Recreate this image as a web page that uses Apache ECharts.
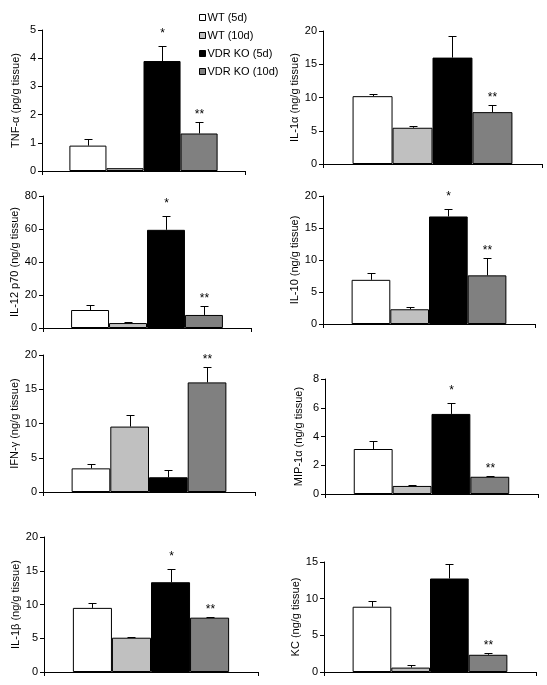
<!DOCTYPE html>
<html>
<head>
<meta charset="utf-8">
<script src="https://cdn.jsdelivr.net/npm/echarts@6/dist/echarts.min.js"></script>
<style>
html,body{margin:0;padding:0;background:#fff;}
#c{width:547px;height:685px;}
</style>
</head>
<body>
<div id="c"></div>
<script>
// ---- Data ----
const groups = ['WT (5d)', 'WT (10d)', 'VDR KO (5d)', 'VDR KO (10d)'];
const groupColors = ['#ffffff', '#c0c0c0', '#000000', '#808080'];

const panelNames = ['TNF-α (pg/g tissue)', 'IL-1α (ng/g tissue)', 'IL-12 p70 (ng/g tissue)', 'IL-10 (ng/g tissue)',
  'IFN-γ (ng/g tissue)', 'MIP-1α (ng/g tissue)', 'IL-1β (ng/g tissue)', 'KC (ng/g tissue)'];

const tnfMean = [0.9, 0.1, 3.9, 1.33];
const tnfErr  = [0.22, 0.0, 0.52, 0.39];
const il1aMean = [10.2, 5.45, 16.0, 7.8];
const il1aErr  = [0.35, 0.25, 3.2, 1.05];
const il12Mean = [10.9, 3.0, 59.5, 7.9];
const il12Err  = [3.0, 0.6, 8.4, 5.4];
const il10Mean = [6.9, 2.3, 16.8, 7.6];
const il10Err  = [1.0, 0.3, 1.1, 2.7];
const ifnMean = [3.45, 9.55, 2.15, 16.0];
const ifnErr  = [0.7, 1.65, 1.12, 2.2];
const mipMean = [3.13, 0.56, 5.57, 1.2];
const mipErr  = [0.56, 0.04, 0.76, 0.05];
const il1bMean = [9.5, 5.08, 13.3, 8.05];
const il1bErr  = [0.77, 0.11, 2.0, 0.15];
const kcMean = [8.9, 0.6, 12.75, 2.35];
const kcErr  = [0.83, 0.4, 2.02, 0.29];

const tnfStars  = ['', '', '*', '**'];
const il1aStars = ['', '', '', '**'];
const il12Stars = ['', '', '*', '**'];
const il10Stars = ['', '', '*', '**'];
const ifnStars  = ['', '', '', '**'];
const mipStars  = ['', '', '*', '**'];
const il1bStars = ['', '', '*', '**'];
const kcStars   = ['', '', '', '**'];

const yMax = [5, 20, 80, 20, 20, 8, 20, 15];
const yInterval = [1, 5, 20, 5, 5, 2, 5, 5];

const means = [tnfMean, il1aMean, il12Mean, il10Mean, ifnMean, mipMean, il1bMean, kcMean];
const errs = [tnfErr, il1aErr, il12Err, il10Err, ifnErr, mipErr, il1bErr, kcErr];
const stars = [tnfStars, il1aStars, il12Stars, il10Stars, ifnStars, mipStars, il1bStars, kcStars];

// ---- Layout (pixel boxes of the plot areas) ----
const grids = [
  {left: 42, top: 30, width: 203, height: 141},
  {left: 323, top: 31, width: 219, height: 133},
  {left: 43, top: 196, width: 208, height: 132},
  {left: 323, top: 196, width: 212, height: 128},
  {left: 43, top: 355, width: 212, height: 137},
  {left: 325, top: 379, width: 213, height: 115},
  {left: 44, top: 537, width: 214, height: 135},
  {left: 324, top: 562, width: 212, height: 110}
];
const CAT_GAP = 0.27;
const FONT = '"Liberation Sans", Arial, sans-serif';

const chart = echarts.init(document.getElementById('c'), null, {renderer: 'canvas'});

const xAxes = [], yAxes = [], series = [];
grids.forEach((g, p) => {
  xAxes.push({
    gridIndex: p, type: 'category', data: [''],
    axisLine: {lineStyle: {color: '#000', width: 1}},
    axisTick: {show: true, length: 4, lineStyle: {color: '#000'}},
    axisLabel: {show: false}
  });
  yAxes.push({
    gridIndex: p, type: 'value', min: 0, max: yMax[p], interval: yInterval[p],
    name: panelNames[p], nameLocation: 'middle', nameGap: 21,
    nameTextStyle: {fontFamily: FONT, fontSize: 11, color: '#000'},
    axisLine: {show: true, lineStyle: {color: '#000', width: 1}},
    axisTick: {show: true, length: 4, lineStyle: {color: '#000'}},
    axisLabel: {fontFamily: FONT, fontSize: 11, color: '#000', margin: 6},
    splitLine: {show: false}
  });
  groups.forEach((name, i) => {
    series.push({
      type: 'bar', name: name, xAxisIndex: p, yAxisIndex: p,
      data: [means[p][i]],
      barGap: '0%', barCategoryGap: (CAT_GAP * 100) + '%',
      itemStyle: {color: groupColors[i], borderColor: '#000', borderWidth: 1},
      emphasis: {disabled: true}, animation: false
    });
  });
  const errData = means[p].map((m, i) => [i, m, m + errs[p][i], stars[p][i]]);
  series.push({
    type: 'custom', xAxisIndex: p, yAxisIndex: p, data: errData, z: 10, animation: false,
    silent: true,
    renderItem: function (params, api) {
      const idx = api.value(0), mean = api.value(1), top = api.value(2);
      const label = errData[params.dataIndex][3];
      const band = api.size([1, 0])[0];
      const bw = band * (1 - CAT_GAP) / 4;
      const cx = Math.round(api.coord([0, 0])[0] - 2 * bw + bw * (idx + 0.5)) + 0.5;
      const y0 = api.coord([0, mean])[1];
      const y1 = Math.round(api.coord([0, top])[1]) + 0.5;
      const children = [];
      if (top > mean) {
        children.push({type: 'line', shape: {x1: cx, y1: y0, x2: cx, y2: y1}, style: {stroke: '#000', lineWidth: 1}});
        children.push({type: 'line', shape: {x1: cx - 4, y1: y1, x2: cx + 4, y2: y1}, style: {stroke: '#000', lineWidth: 1}});
      }
      if (label) {
        const gap = label.length === 1 ? 7 : 2;
        children.push({type: 'text', style: {x: cx, y: y1 - gap, text: label, textAlign: 'center', textVerticalAlign: 'bottom',
          font: '12px ' + FONT, fill: '#000'}});
      }
      return {type: 'group', children: children};
    }
  });
});

chart.setOption({
  backgroundColor: '#fff',
  animation: false,
  legend: {
    show: true, orient: 'vertical', left: 194, top: 7,
    itemWidth: 6, itemHeight: 6, itemGap: 7,
    icon: 'rect',
    textStyle: {fontFamily: FONT, fontSize: 11, color: '#000', padding: [0, 0, 0, -3]},
    data: groups.map((n, i) => ({name: n, itemStyle: {color: groupColors[i], borderColor: '#000', borderWidth: 1}})),
    selectedMode: false
  },
  grid: grids.map(g => Object.assign({containLabel: false}, g)),
  xAxis: xAxes,
  yAxis: yAxes,
  series: series
});
</script>
</body>
</html>
